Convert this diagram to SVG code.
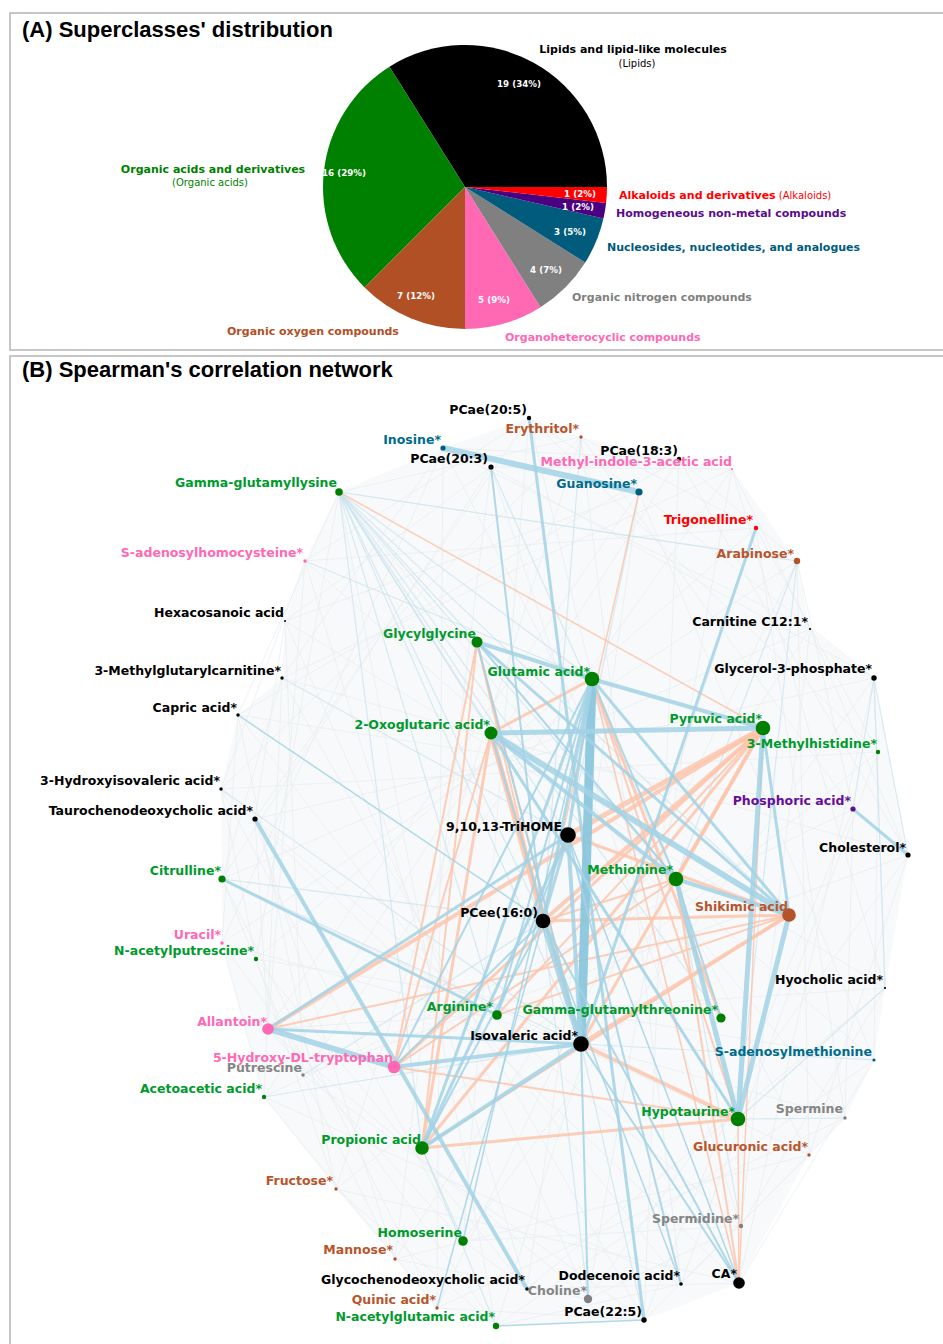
<svg xmlns="http://www.w3.org/2000/svg" width="943" height="1344" viewBox="0 0 943 1344">
<style>
.title{font-family:"Liberation Sans",Arial,sans-serif;font-weight:bold;font-size:22px;fill:#000}
.pl{font-family:"DejaVu Sans",sans-serif;font-weight:bold;font-size:11px}
.pn{font-family:"DejaVu Sans",sans-serif;font-size:10px}
.pv{font-family:"DejaVu Sans",sans-serif;font-weight:bold;font-size:8.7px;fill:#fff;text-anchor:middle}
.lb{font-family:"DejaVu Sans",sans-serif;font-weight:bold;font-size:12.5px;text-anchor:end}
.frame{fill:none;stroke:#b4b4b4;stroke-width:1.5}
.faint{fill:none;stroke:#e7ecef;stroke-width:0.7}
.l{stroke:#c9e2ee;stroke-opacity:.7}
.p{stroke:#a2d2e5;stroke-opacity:.85}
.pd{stroke:#8bc6dd;stroke-opacity:.95}
.n{stroke:#fdc5ab;stroke-opacity:.85}
.cg{fill:#008000}.ck{fill:#000}.cp{fill:#ff69b4}.cb{fill:#b5522a}.ct{fill:#005f80}.cy{fill:#808080}.cr{fill:#ff0000}.cu{fill:#5a0d8c}
.tg{fill:#009a2c}.tk{fill:#000}.tp{fill:#ff69b4}.tb{fill:#b8552d}.tt{fill:#006b8c}.ty{fill:#858585}.tr{fill:#ff0000}.tu{fill:#660e99}
</style>

<!-- Panel A -->
<rect class="frame" x="10" y="13" width="950" height="337"/>
<text class="title" x="22" y="37">(A) Superclasses' distribution</text>
<g id="pie">
<path d="M465 187L607 187A142 142 0 0 0 389.46 66.77Z" fill="#000000"/>
<path d="M465 187L389.46 66.77A142 142 0 0 0 364.59 287.41Z" fill="#008000"/>
<path d="M465 187L364.59 287.41A142 142 0 0 0 465 329Z" fill="#b14f25"/>
<path d="M465 187L465 329A142 142 0 0 0 540.54 307.23Z" fill="#ff69b4"/>
<path d="M465 187L540.54 307.23A142 142 0 0 0 585.23 262.54Z" fill="#808080"/>
<path d="M465 187L585.23 262.54A142 142 0 0 0 603.44 218.59Z" fill="#005b7d"/>
<path d="M465 187L603.44 218.59A142 142 0 0 0 606.11 202.9Z" fill="#4b0082"/>
<path d="M465 187L606.11 202.9A142 142 0 0 0 607 187Z" fill="#ff0000"/>
<text class="pv" x="519" y="87">19 (34%)</text>
<text class="pv" x="344" y="176">16 (29%)</text>
<text class="pv" x="416" y="299">7 (12%)</text>
<text class="pv" x="494" y="303">5 (9%)</text>
<text class="pv" x="546" y="273">4 (7%)</text>
<text class="pv" x="570" y="235">3 (5%)</text>
<text class="pv" x="580" y="197">1 (2%)</text>
<text class="pv" x="578" y="210">1 (2%)</text>
</g>
<g id="pie-labels">
<text class="pl" x="633" y="53" text-anchor="middle" fill="#000">Lipids and lipid-like molecules</text>
<text class="pn" x="637" y="67" text-anchor="middle" fill="#000">(Lipids)</text>
<text class="pl" x="213" y="173" text-anchor="middle" fill="#008000">Organic acids and derivatives</text>
<text class="pn" x="210" y="186" text-anchor="middle" fill="#008000">(Organic acids)</text>
<text x="619" y="199" fill="#ff0000"><tspan class="pl">Alkaloids and derivatives</tspan><tspan class="pn"> (Alkaloids)</tspan></text>
<text class="pl" x="616" y="217" fill="#5a0d8c">Homogeneous non-metal compounds</text>
<text class="pl" x="607" y="251" fill="#005b7d">Nucleosides, nucleotides, and analogues</text>
<text class="pl" x="572" y="301" fill="#808080">Organic nitrogen compounds</text>
<text class="pl" x="505" y="341" fill="#ff69b4">Organoheterocyclic compounds</text>
<text class="pl" x="227" y="335" fill="#b14f25">Organic oxygen compounds</text>
</g>

<!-- Panel B -->
<rect class="frame" x="10" y="356" width="950" height="1000"/>
<text class="title" x="22" y="377">(B) Spearman's correlation network</text>

<g id="connectors">
<polygon points="529,418 581,437 679,459 732,469 797,561 810,629 874,678 908,855 885,988 874,1060 845,1118 809,1155 739,1283 644,1320 496,1326 437,1308 395,1259 336,1189 264,1097 222,943 222,879 221,789 238,715 282,678 285,621 305,561 339,492 443,448" fill="#f8f9fa"/>
<path class="faint" d="M529 418L878 752M581 437L853 809M679 459L908 855M732 469L885 988M639 492L874 1060M756 528L845 1118M797 561L809 1155M810 629L741 1226M874 678L739 1283M878 752L681 1284M853 809L644 1320M908 855L588 1299M885 988L527 1289M874 1060L496 1326M845 1118L437 1308M809 1155L395 1259M741 1226L463 1241M739 1283L336 1189M681 1284L264 1097M644 1320L303 1075M588 1299L268 1029M527 1289L256 959M496 1326L222 943M437 1308L222 879M395 1259L255 819M463 1241L221 789M336 1189L238 715M264 1097L282 678M303 1075L285 621M268 1029L305 561M256 959L339 492M222 943L443 448M222 879L491 467M255 819L529 418M221 789L581 437M238 715L679 459M282 678L732 469M285 621L639 492M305 561L756 528M339 492L797 561M443 448L810 629M491 467L874 678"/>
<path class="faint" d="M529 418L739 1283M581 437L681 1284M679 459L644 1320M732 469L588 1299M639 492L527 1289M756 528L496 1326M797 561L437 1308M810 629L395 1259M874 678L463 1241M878 752L336 1189M853 809L264 1097M908 855L303 1075M885 988L268 1029M874 1060L256 959M845 1118L222 943M809 1155L222 879M741 1226L255 819M739 1283L221 789M681 1284L238 715M644 1320L282 678M588 1299L285 621M527 1289L305 561M496 1326L339 492M437 1308L443 448M395 1259L491 467M463 1241L529 418M336 1189L581 437M264 1097L679 459M303 1075L732 469M268 1029L639 492M256 959L756 528M222 943L797 561M222 879L810 629M255 819L874 678M221 789L878 752M238 715L853 809M282 678L908 855M285 621L885 988M305 561L874 1060M339 492L845 1118M443 448L809 1155M491 467L741 1226"/>
<path class="faint" d="M529 418L639 492M581 437L756 528M679 459L797 561M732 469L810 629M639 492L874 678M756 528L878 752M797 561L853 809M810 629L908 855M874 678L885 988M878 752L874 1060M853 809L845 1118M908 855L809 1155M885 988L741 1226M874 1060L739 1283M845 1118L681 1284M809 1155L644 1320M741 1226L588 1299M739 1283L527 1289M681 1284L496 1326M644 1320L437 1308M588 1299L395 1259M527 1289L463 1241M496 1326L336 1189M437 1308L264 1097M395 1259L303 1075M463 1241L268 1029M336 1189L256 959M264 1097L222 943M303 1075L222 879M268 1029L255 819M256 959L221 789M222 943L238 715M222 879L282 678M255 819L285 621M221 789L305 561M238 715L339 492M282 678L443 448M285 621L491 467M305 561L529 418M339 492L581 437M443 448L679 459M491 467L732 469"/>

<g id="light-edges" stroke-width="1.2">
<line class="l" x1="339" y1="492" x2="477" y2="642"/>
<line class="l" x1="339" y1="492" x2="592" y2="679"/>
<line class="l" x1="339" y1="492" x2="491" y2="733"/>
<line class="l" x1="339" y1="492" x2="568" y2="835"/>
<line class="l" x1="339" y1="492" x2="543" y2="921"/>
<line class="l" x1="339" y1="492" x2="676" y2="879"/>
<line class="l" x1="339" y1="492" x2="497" y2="1015"/>
<line class="l" x1="339" y1="492" x2="581" y2="1044"/>
<line class="l" x1="339" y1="492" x2="422" y2="1148"/>
<line class="l" x1="339" y1="492" x2="789" y2="915"/>
<line class="l" x1="339" y1="492" x2="738" y2="1119"/>
<line class="l" x1="339" y1="492" x2="797" y2="561"/>
<line class="l" x1="339" y1="492" x2="721" y2="1018"/>
<line class="l" x1="874" y1="678" x2="908" y2="855"/>
<line class="l" x1="874" y1="678" x2="853" y2="809"/>
<line class="l" x1="874" y1="678" x2="885" y2="988"/>
<line class="l" x1="797" y1="561" x2="676" y2="879"/>
<line class="l" x1="797" y1="561" x2="738" y2="1119"/>
<line class="l" x1="305" y1="561" x2="592" y2="679"/>
<line class="l" x1="282" y1="678" x2="568" y2="835"/>
<line class="l" x1="221" y1="789" x2="581" y2="1044"/>
<line class="l" x1="222" y1="879" x2="581" y2="1044"/>
<line class="l" x1="222" y1="879" x2="543" y2="921"/>
<line class="l" x1="874" y1="1060" x2="581" y2="1044"/>
<line class="l" x1="885" y1="988" x2="738" y2="1119"/>
<line class="l" x1="845" y1="1118" x2="738" y2="1119"/>
<line class="l" x1="741" y1="1226" x2="676" y2="879"/>
<line class="l" x1="639" y1="492" x2="568" y2="835"/>
<line class="l" x1="491" y1="467" x2="676" y2="879"/>
<line class="l" x1="581" y1="437" x2="543" y2="921"/>
<line class="l" x1="644" y1="1320" x2="581" y2="1044"/>
<line class="l" x1="588" y1="1299" x2="543" y2="921"/>
<line class="l" x1="463" y1="1241" x2="422" y2="1148"/>
<line class="l" x1="496" y1="1326" x2="422" y2="1148"/>
<line class="l" x1="264" y1="1097" x2="581" y2="1044"/>
<line class="l" x1="303" y1="1075" x2="543" y2="921"/>
</g>

<g id="negative-edges">
<line class="n" stroke-width="5" x1="763" y1="728" x2="568" y2="835"/>
<line class="n" stroke-width="4" x1="763" y1="728" x2="543" y2="921"/>
<line class="n" stroke-width="4" x1="763" y1="728" x2="268" y2="1029"/>
<line class="n" stroke-width="3" x1="763" y1="728" x2="422" y2="1148"/>
<line class="n" stroke-width="3" x1="763" y1="728" x2="581" y2="1044"/>
<line class="n" stroke-width="2" x1="763" y1="728" x2="497" y2="1015"/>
<line class="n" stroke-width="4" x1="763" y1="728" x2="676" y2="879"/>
<line class="n" stroke-width="3" x1="763" y1="728" x2="394" y2="1067"/>
<line class="n" stroke-width="5" x1="491" y1="733" x2="543" y2="921"/>
<line class="n" stroke-width="4" x1="491" y1="733" x2="581" y2="1044"/>
<line class="n" stroke-width="3" x1="491" y1="733" x2="422" y2="1148"/>
<line class="n" stroke-width="3" x1="592" y1="679" x2="491" y2="733"/>
<line class="n" stroke-width="3" x1="592" y1="679" x2="721" y2="1018"/>
<line class="n" stroke-width="2" x1="592" y1="679" x2="738" y2="1119"/>
<line class="n" stroke-width="1.5" x1="592" y1="679" x2="739" y2="1283"/>
<line class="n" stroke-width="2" x1="477" y1="642" x2="543" y2="921"/>
<line class="n" stroke-width="2" x1="477" y1="642" x2="581" y2="1044"/>
<line class="n" stroke-width="2" x1="477" y1="642" x2="422" y2="1148"/>
<line class="n" stroke-width="3" x1="789" y1="915" x2="543" y2="921"/>
<line class="n" stroke-width="4" x1="789" y1="915" x2="581" y2="1044"/>
<line class="n" stroke-width="3" x1="789" y1="915" x2="568" y2="835"/>
<line class="n" stroke-width="2" x1="789" y1="915" x2="422" y2="1148"/>
<line class="n" stroke-width="2" x1="789" y1="915" x2="497" y2="1015"/>
<line class="n" stroke-width="2" x1="268" y1="1029" x2="789" y2="915"/>
<line class="n" stroke-width="3" x1="422" y1="1148" x2="738" y2="1119"/>
<line class="n" stroke-width="2" x1="394" y1="1067" x2="738" y2="1119"/>
<line class="n" stroke-width="4" x1="581" y1="1044" x2="738" y2="1119"/>
<line class="n" stroke-width="2" x1="676" y1="879" x2="739" y2="1283"/>
<line class="n" stroke-width="1.5" x1="738" y1="1119" x2="739" y2="1283"/>
<line class="n" stroke-width="1.5" x1="763" y1="728" x2="739" y2="1283"/>
<line class="n" stroke-width="1.5" x1="339" y1="492" x2="763" y2="728"/>
<line class="n" stroke-width="1.5" x1="639" y1="492" x2="543" y2="921"/>
<line class="n" stroke-width="2" x1="394" y1="1067" x2="491" y2="733"/>
<line class="n" stroke-width="2" x1="394" y1="1067" x2="477" y2="642"/>
<line class="n" stroke-width="2" x1="676" y1="879" x2="543" y2="921"/>
<line class="n" stroke-width="2" x1="676" y1="879" x2="394" y2="1067"/>
</g>

<g id="positive-edges">
<line class="p" stroke-width="6" x1="443" y1="448" x2="639" y2="492"/>
<line class="p" stroke-width="3" x1="529" y1="418" x2="644" y2="1320"/>
<line class="p" stroke-width="2" x1="491" y1="467" x2="543" y2="921"/>
<line class="p" stroke-width="3" x1="756" y1="528" x2="581" y2="1044"/>
<line class="pd" stroke-width="9" x1="592" y1="679" x2="581" y2="1044"/>
<line class="p" stroke-width="5" x1="491" y1="733" x2="763" y2="728"/>
<line class="p" stroke-width="6" x1="491" y1="733" x2="789" y2="915"/>
<line class="p" stroke-width="4" x1="491" y1="733" x2="676" y2="879"/>
<line class="p" stroke-width="3" x1="491" y1="733" x2="738" y2="1119"/>
<line class="p" stroke-width="2" x1="491" y1="733" x2="581" y2="1044"/>
<line class="p" stroke-width="4" x1="477" y1="642" x2="592" y2="679"/>
<line class="p" stroke-width="3" x1="477" y1="642" x2="789" y2="915"/>
<line class="p" stroke-width="2" x1="477" y1="642" x2="676" y2="879"/>
<line class="p" stroke-width="2" x1="477" y1="642" x2="581" y2="1044"/>
<line class="p" stroke-width="4" x1="592" y1="679" x2="763" y2="728"/>
<line class="p" stroke-width="3" x1="592" y1="679" x2="789" y2="915"/>
<line class="p" stroke-width="2" x1="592" y1="679" x2="676" y2="879"/>
<line class="p" stroke-width="3" x1="592" y1="679" x2="568" y2="835"/>
<line class="p" stroke-width="3" x1="592" y1="679" x2="543" y2="921"/>
<line class="p" stroke-width="3" x1="592" y1="679" x2="422" y2="1148"/>
<line class="p" stroke-width="2" x1="592" y1="679" x2="497" y2="1015"/>
<line class="p" stroke-width="2" x1="592" y1="679" x2="394" y2="1067"/>
<line class="p" stroke-width="1.5" x1="592" y1="679" x2="463" y2="1241"/>
<line class="p" stroke-width="5" x1="763" y1="728" x2="738" y2="1119"/>
<line class="p" stroke-width="3" x1="763" y1="728" x2="789" y2="915"/>
<line class="p" stroke-width="5" x1="789" y1="915" x2="738" y2="1119"/>
<line class="p" stroke-width="5" x1="676" y1="879" x2="738" y2="1119"/>
<line class="p" stroke-width="4" x1="676" y1="879" x2="789" y2="915"/>
<line class="p" stroke-width="2" x1="676" y1="879" x2="721" y2="1018"/>
<line class="p" stroke-width="6" x1="543" y1="921" x2="581" y2="1044"/>
<line class="p" stroke-width="4" x1="568" y1="835" x2="581" y2="1044"/>
<line class="p" stroke-width="3" x1="568" y1="835" x2="268" y2="1029"/>
<line class="p" stroke-width="3" x1="568" y1="835" x2="543" y2="921"/>
<line class="p" stroke-width="2" x1="568" y1="835" x2="497" y2="1015"/>
<line class="p" stroke-width="2" x1="568" y1="835" x2="681" y2="1284"/>
<line class="p" stroke-width="1.5" x1="568" y1="835" x2="739" y2="1283"/>
<line class="p" stroke-width="6" x1="268" y1="1029" x2="394" y2="1067"/>
<line class="p" stroke-width="3" x1="268" y1="1029" x2="581" y2="1044"/>
<line class="p" stroke-width="4" x1="394" y1="1067" x2="581" y2="1044"/>
<line class="p" stroke-width="2" x1="543" y1="921" x2="394" y2="1067"/>
<line class="p" stroke-width="4" x1="422" y1="1148" x2="581" y2="1044"/>
<line class="p" stroke-width="3" x1="422" y1="1148" x2="568" y2="835"/>
<line class="p" stroke-width="2" x1="422" y1="1148" x2="543" y2="921"/>
<line class="p" stroke-width="4" x1="255" y1="819" x2="527" y2="1289"/>
<line class="p" stroke-width="3" x1="222" y1="879" x2="497" y2="1015"/>
<line class="p" stroke-width="3" x1="853" y1="809" x2="908" y2="855"/>
<line class="p" stroke-width="1.5" x1="238" y1="715" x2="543" y2="921"/>
<line class="p" stroke-width="2" x1="581" y1="1044" x2="739" y2="1283"/>
<line class="p" stroke-width="2" x1="543" y1="921" x2="739" y2="1283"/>
<line class="p" stroke-width="2" x1="581" y1="1044" x2="588" y2="1299"/>
<line class="p" stroke-width="1.5" x1="496" y1="1326" x2="644" y2="1320"/>
<line class="p" stroke-width="1.5" x1="437" y1="1308" x2="543" y2="921"/>
<line class="p" stroke-width="1.5" x1="681" y1="1284" x2="543" y2="921"/>
</g>
</g>

<g id="nodes">
<g id="n-pcae205"><circle class="ck" cx="529" cy="418" r="2.2"/><text class="lb tk" x="527" y="414">PCae(20:5)</text></g>
<g id="n-erythritol"><circle class="cb" cx="581" cy="437" r="1.7"/><text class="lb tb" x="579" y="433">Erythritol*</text></g>
<g id="n-inosine"><circle class="ct" cx="443" cy="448" r="2.6"/><text class="lb tt" x="441" y="444">Inosine*</text></g>
<g id="n-pcae183"><circle class="ck" cx="679" cy="459" r="2.2"/><text class="lb tk" x="678" y="455">PCae(18:3)</text></g>
<g id="n-pcae203"><circle class="ck" cx="491" cy="467" r="2.6"/><text class="lb tk" x="488" y="463">PCae(20:3)</text></g>
<g id="n-mia"><circle class="cp" cx="732" cy="469" r="1"/><text class="lb tp" x="732" y="466">Methyl-indole-3-acetic acid</text></g>
<g id="n-guanosine"><circle class="ct" cx="639" cy="492" r="3.6"/><text class="lb tt" x="637" y="488">Guanosine*</text></g>
<g id="n-ggl"><circle class="cg" cx="339" cy="492" r="3.8"/><text class="lb tg" x="337" y="487">Gamma-glutamyllysine</text></g>
<g id="n-trigonelline"><circle class="cr" cx="756" cy="528" r="2.2"/><text class="lb tr" x="753" y="524">Trigonelline*</text></g>
<g id="n-arabinose"><circle class="cb" cx="797" cy="561" r="3.2"/><text class="lb tb" x="794" y="558">Arabinose*</text></g>
<g id="n-sah"><circle class="cp" cx="305" cy="561" r="1.7"/><text class="lb tp" x="303" y="557">S-adenosylhomocysteine*</text></g>
<g id="n-hexacosanoic"><circle class="ck" cx="285" cy="621" r="1"/><text class="lb tk" x="284" y="617">Hexacosanoic acid</text></g>
<g id="n-carnitine"><circle class="ck" cx="810" cy="629" r="1.1"/><text class="lb tk" x="808" y="626">Carnitine C12:1*</text></g>
<g id="n-glycylglycine"><circle class="cg" cx="477" cy="642" r="5.5"/><text class="lb tg" x="476" y="638">Glycylglycine</text></g>
<g id="n-g3p"><circle class="ck" cx="874" cy="678" r="2.7"/><text class="lb tk" x="872" y="673">Glycerol-3-phosphate*</text></g>
<g id="n-mgc"><circle class="ck" cx="282" cy="678" r="1.7"/><text class="lb tk" x="281" y="675">3-Methylglutarylcarnitine*</text></g>
<g id="n-glutamic"><circle class="cg" cx="592" cy="679" r="7.3"/><text class="lb tg" x="590" y="676">Glutamic acid*</text></g>
<g id="n-capric"><circle class="ck" cx="238" cy="715" r="1.7"/><text class="lb tk" x="237" y="712">Capric acid*</text></g>
<g id="n-pyruvic"><circle class="cg" cx="763" cy="728" r="7.3"/><text class="lb tg" x="762" y="723">Pyruvic acid*</text></g>
<g id="n-oxoglutaric"><circle class="cg" cx="491" cy="733" r="6.5"/><text class="lb tg" x="490" y="729">2-Oxoglutaric acid*</text></g>
<g id="n-mh"><circle class="cg" cx="878" cy="752" r="2.2"/><text class="lb tg" x="877" y="748">3-Methylhistidine*</text></g>
<g id="n-hiv"><circle class="ck" cx="221" cy="789" r="1.7"/><text class="lb tk" x="220" y="785">3-Hydroxyisovaleric acid*</text></g>
<g id="n-phosphoric"><circle class="cu" cx="853" cy="809" r="2.6"/><text class="lb tu" x="851" y="805">Phosphoric acid*</text></g>
<g id="n-tcdca"><circle class="ck" cx="255" cy="819" r="2.6"/><text class="lb tk" x="253" y="815">Taurochenodeoxycholic acid*</text></g>
<g id="n-trihome"><circle class="ck" cx="568" cy="835" r="7.8"/><text class="lb tk" x="562" y="831">9,10,13-TriHOME</text></g>
<g id="n-cholesterol"><circle class="ck" cx="908" cy="855" r="2.6"/><text class="lb tk" x="906" y="852">Cholesterol*</text></g>
<g id="n-citrulline"><circle class="cg" cx="222" cy="879" r="3.6"/><text class="lb tg" x="221" y="875">Citrulline*</text></g>
<g id="n-methionine"><circle class="cg" cx="676" cy="879" r="7.3"/><text class="lb tg" x="673" y="874">Methionine*</text></g>
<g id="n-shikimic"><circle class="cb" cx="789" cy="915" r="6.8"/><text class="lb tb" x="788" y="911">Shikimic acid</text></g>
<g id="n-pcee160"><circle class="ck" cx="543" cy="921" r="7.3"/><text class="lb tk" x="538" y="917">PCee(16:0)</text></g>
<g id="n-uracil"><circle class="cp" cx="222" cy="943" r="1.7"/><text class="lb tp" x="221" y="939">Uracil*</text></g>
<g id="n-nap"><circle class="cg" cx="256" cy="959" r="2.2"/><text class="lb tg" x="254" y="955">N-acetylputrescine*</text></g>
<g id="n-hyocholic"><circle class="ck" cx="885" cy="988" r="1.1"/><text class="lb tk" x="883" y="984">Hyocholic acid*</text></g>
<g id="n-arginine"><circle class="cg" cx="497" cy="1015" r="4.8"/><text class="lb tg" x="493" y="1011">Arginine*</text></g>
<g id="n-ggt"><circle class="cg" cx="721" cy="1018" r="4.6"/><text class="lb tg" x="718" y="1014">Gamma-glutamylthreonine*</text></g>
<g id="n-allantoin"><circle class="cp" cx="268" cy="1029" r="5.8"/><text class="lb tp" x="267" y="1026">Allantoin*</text></g>
<g id="n-isovaleric"><circle class="ck" cx="581" cy="1044" r="7.8"/><text class="lb tk" x="578" y="1040">Isovaleric acid*</text></g>
<g id="n-sam"><circle class="ct" cx="874" cy="1060" r="1.6"/><text class="lb tt" x="872" y="1056">S-adenosylmethionine</text></g>
<g id="n-putrescine"><circle class="cy" cx="303" cy="1075" r="1.7"/><text class="lb ty" x="302" y="1072">Putrescine</text></g>
<g id="n-htp"><circle class="cp" cx="394" cy="1067" r="6.3"/><text class="lb tp" x="393" y="1062">5-Hydroxy-DL-tryptophan</text></g>
<g id="n-acetoacetic"><circle class="cg" cx="264" cy="1097" r="2.2"/><text class="lb tg" x="262" y="1093">Acetoacetic acid*</text></g>
<g id="n-spermine"><circle class="cy" cx="845" cy="1118" r="1.7"/><text class="lb ty" x="843" y="1113">Spermine</text></g>
<g id="n-hypotaurine"><circle class="cg" cx="738" cy="1119" r="7.3"/><text class="lb tg" x="735" y="1116">Hypotaurine*</text></g>
<g id="n-propionic"><circle class="cg" cx="422" cy="1148" r="6.8"/><text class="lb tg" x="421" y="1144">Propionic acid</text></g>
<g id="n-glucuronic"><circle class="cb" cx="809" cy="1155" r="1.7"/><text class="lb tb" x="808" y="1151">Glucuronic acid*</text></g>
<g id="n-fructose"><circle class="cb" cx="336" cy="1189" r="1.7"/><text class="lb tb" x="333" y="1185">Fructose*</text></g>
<g id="n-spermidine"><circle class="cy" cx="741" cy="1226" r="2.2"/><text class="lb ty" x="739" y="1223">Spermidine*</text></g>
<g id="n-homoserine"><circle class="cg" cx="463" cy="1241" r="4.8"/><text class="lb tg" x="462" y="1237">Homoserine</text></g>
<g id="n-mannose"><circle class="cb" cx="395" cy="1259" r="1.7"/><text class="lb tb" x="393" y="1254">Mannose*</text></g>
<g id="n-dodecenoic"><circle class="ck" cx="681" cy="1284" r="1.8"/><text class="lb tk" x="680" y="1280">Dodecenoic acid*</text></g>
<g id="n-ca"><circle class="ck" cx="739" cy="1283" r="5.8"/><text class="lb tk" x="737" y="1278">CA*</text></g>
<g id="n-gcdca"><circle class="ck" cx="527" cy="1289" r="1.8"/><text class="lb tk" x="525" y="1284">Glycochenodeoxycholic acid*</text></g>
<g id="n-choline"><circle class="cy" cx="588" cy="1299" r="4.2"/><text class="lb ty" x="587" y="1295">Choline*</text></g>
<g id="n-quinic"><circle class="cb" cx="437" cy="1308" r="1.7"/><text class="lb tb" x="436" y="1304">Quinic acid*</text></g>
<g id="n-pcae225"><circle class="ck" cx="644" cy="1320" r="2.7"/><text class="lb tk" x="642" y="1316">PCae(22:5)</text></g>
<g id="n-naga"><circle class="cg" cx="496" cy="1326" r="3.2"/><text class="lb tg" x="495" y="1321">N-acetylglutamic acid*</text></g>
</g>
</svg>
